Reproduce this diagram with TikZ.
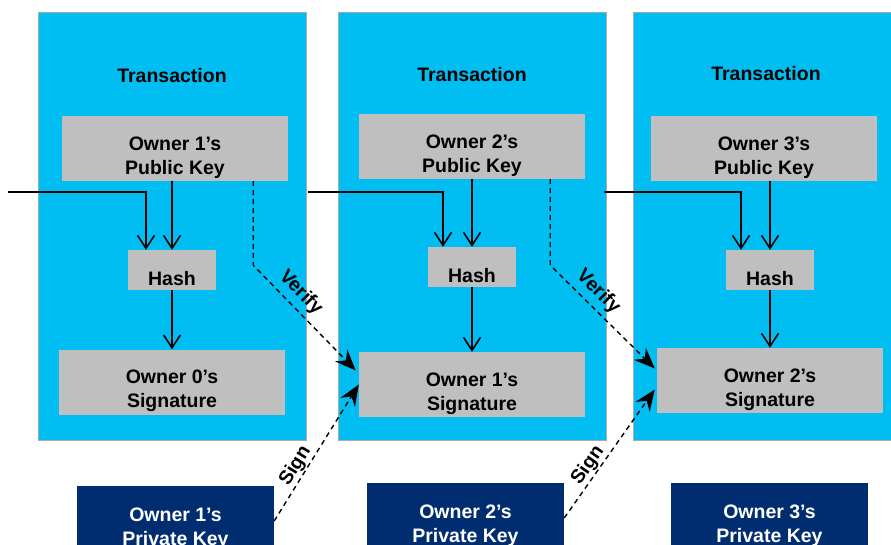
\documentclass[tikz,border=0pt]{standalone}
\usepackage{fontspec}
\setmainfont{Liberation Sans}
\usetikzlibrary{positioning,calc,arrows.meta}

\definecolor{txblue}{RGB}{0,190,242}
\definecolor{keygrey}{RGB}{191,191,191}
\definecolor{keynavy}{RGB}{0,45,112}
\definecolor{edgegrey}{RGB}{170,170,170}

\begin{document}
\begin{tikzpicture}[
    x=1pt, y=-1pt,
    font=\fontsize{19.5}{24}\selectfont\bfseries,
    solidarrow/.style={-{Straight Barb[length=13pt,width=17pt]}, line width=1.6pt},
    dasharrow/.style={-{Stealth[length=21pt,width=17pt,inset=7pt]}, line width=1.4pt, dash pattern=on 5pt off 4pt},
    txbox/.style={draw=edgegrey, fill=txblue, line width=0.8pt, minimum width=268pt, minimum height=428pt, inner sep=0pt},
    greybox/.style={fill=keygrey, minimum width=226pt, minimum height=65pt, align=center, inner sep=0pt, text height=56pt},
    hashbox/.style={greybox, minimum width=88pt, minimum height=40pt, text height=31pt},
    privbox/.style={fill=keynavy, text=white, minimum width=197pt, minimum height=70pt, align=center, inner sep=0pt, text height=54pt},
    steplabel/.style={sloped, above, inner sep=3pt}
]
\useasboundingbox (0,0) rectangle (891,545);
\clip (0,0) rectangle (891,545);

% 三个交易框
\node[txbox] (tx1) at (172,226) {};
\node[txbox] (tx2) at (472,226) {};
\node[txbox] (tx3) at (767,226) {};
\node (title1) at (172,76) {Transaction};
\node (title2) at (472,75) {Transaction};
\node (title3) at (766,74) {Transaction};

% 公钥、哈希、签名
\node[greybox] (pk1) at (175,148.5) {Owner 1’s\\Public Key};
\node[greybox] (pk2) at (472,146.5) {Owner 2’s\\Public Key};
\node[greybox] (pk3) at (764,148.5) {Owner 3’s\\Public Key};

\node[hashbox] (h1) at (172,270) {Hash};
\node[hashbox] (h2) at (472,267) {Hash};
\node[hashbox] (h3) at (770,270) {Hash};

\node[greybox] (s1) at (172,382)   {Owner 0’s\\Signature};
\node[greybox] (s2) at (472,384.5) {Owner 1’s\\Signature};
\node[greybox] (s3) at (770,380.5) {Owner 2’s\\Signature};

% 私钥
\node[privbox] (pv1) at (175.5,521) {Owner 1’s\\Private Key};
\node[privbox] (pv2) at (465.5,518) {Owner 2’s\\Private Key};
\node[privbox] (pv3) at (769.5,518) {Owner 3’s\\Private Key};

% 前一笔交易 -> 哈希
\coordinate (in1) at (8,192);
\draw[solidarrow] (in1) -| ([xshift=-26pt]h1.north);
\draw[solidarrow] ([xshift=2pt]tx1.east |- in1) -| ([xshift=-29pt]h2.north);
\draw[solidarrow] ([xshift=-2pt]tx2.east |- in1) -| ([xshift=-29pt]h3.north);

% 公钥 -> 哈希 -> 签名
\draw[solidarrow] (pk1.south -| h1.north) -- (h1.north);
\draw[solidarrow] (pk2.south -| h2.north) -- (h2.north);
\draw[solidarrow] (pk3.south -| h3.north) -- (h3.north);
\draw[solidarrow] (h1.south) -- (s1.north);
\draw[solidarrow] (h2.south) -- (s2.north);
\draw[solidarrow] (h3.south) -- (s3.north);

% Verify：先向下，再斜向下一个签名
\coordinate (v1top)  at ($(pk1.south east)+(-35,0)$);
\coordinate (v1bend) at ($(pk1.south east)+(-35,84)$);
\coordinate (v2top)  at ($(pk2.south east)+(-35,0)$);
\coordinate (v2bend) at ($(pk2.south east)+(-35,86)$);
\draw[dasharrow] (v1top) -- (v1bend) -- node[steplabel, pos=0.36, inner sep=5pt] {Verify} ([xshift=-3pt,yshift=14pt]s2.west);
\draw[dasharrow] (v2top) -- (v2bend) -- node[steplabel, pos=0.36, inner sep=5pt] {Verify} ([xshift=-2pt,yshift=12pt]s3.west);

% Sign：私钥 -> 签名
\draw[dasharrow] (pv1.east) -- node[steplabel, pos=0.36, inner sep=1pt] {Sign} (s2.west);
\draw[dasharrow] (pv2.east) -- node[steplabel, pos=0.36, inner sep=1pt] {Sign} ([xshift=-2pt,yshift=-9pt]s3.west);

\end{tikzpicture}
\end{document}
